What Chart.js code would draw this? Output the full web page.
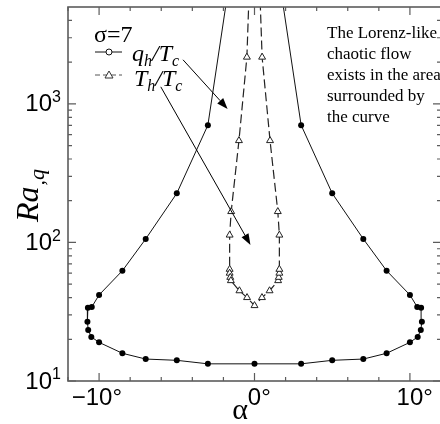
<!DOCTYPE html>
<html>
<head>
<meta charset="utf-8">
<script src="https://cdn.jsdelivr.net/npm/chart.js@4/dist/chart.umd.min.js"></script>
<style>
  html, body { margin: 0; padding: 0; overflow: hidden; background: #fff; }
  canvas { display: block; }
</style>
</head>
<body>
<canvas id="c" width="446" height="424" style="width:446px;height:424px"></canvas>
<script>
// ----------------- data -----------------
// q_h/T_c : closed loop, filled circles
const alphaQ = [-1.6, -3, -5, -7, -8.5, -10, -10.47, -10.72, -10.75, -10.7, -10.5, -10, -8.5, -7, -5, -3,
                0, 3, 5, 7, 8.5, 10, 10.5, 10.7, 10.77, 10.72, 10.47, 10, 8.5, 7, 5, 3, 1.6];
const raQ    = [7800, 702, 226, 106, 62.5, 41.8, 34.2, 33.8, 26.8, 23.3, 20.8, 19, 15.85, 14.4, 14.1, 13.3,
                13.3, 13.3, 14.1, 14.4, 15.85, 19, 20.8, 23.3, 26.8, 33.8, 34.2, 41.8, 62.5, 106, 226, 702, 7800];
// T_h/T_c : dashed, open triangles
const alphaT = [-0.3, -0.49, -1.0, -1.5, -1.6, -1.6, -1.6, -1.56, -1.52, -0.97, -0.48, 0,
                0.48, 0.97, 1.52, 1.56, 1.6, 1.6, 1.6, 1.5, 1.0, 0.49, 0.3];
const raT    = [9000, 2173, 543, 167, 113, 64, 60, 56, 53, 44.8, 40, 35,
                40, 44.8, 53, 56, 60, 64, 113, 167, 543, 2173, 9000];

const xMajor = [-10, 0, 10];
const xNum = ['10', '0', '10'];
const xSign = ['\u2212', '', ''];
const xMinor = [-12, -8, -6, -4, -2, 2, 4, 6, 8, 12];
const yMajor = [10, 100, 1000];
const yExp = ['1', '2', '3'];
const yMinor = [20, 30, 40, 50, 60, 70, 80, 90, 200, 300, 400, 500, 600, 700, 800, 900, 2000, 3000, 4000];

const noteLines = ['The Lorenz-like', 'chaotic flow', 'exists in the area', 'surrounded by', 'the curve'];
// arrows from legend labels to curves (data coords)
const arrowFrom = [[-4.6, 2080], [-6.03, 1327]];
const arrowTo   = [[-1.73, 920], [-0.26, 96]];

const pts = (xs, ys) => xs.map((v, i) => ({ x: v, y: ys[i] }));

function sub(ctx, main, s, x, y, big, small) {
  ctx.font = 'italic ' + big + 'px "Liberation Serif"';
  ctx.fillText(main, x, y);
  x += ctx.measureText(main).width;
  ctx.font = 'italic ' + small + 'px "Liberation Serif"';
  ctx.fillText(s, x, y + 5);
  return x + ctx.measureText(s).width;
}

function arrow(ctx, x0, y0, x1, y1) {
  const ang = Math.atan2(y1 - y0, x1 - x0), L = 11, W = 4;
  const bx = x1 - L * Math.cos(ang), by = y1 - L * Math.sin(ang);
  ctx.beginPath(); ctx.moveTo(x0, y0); ctx.lineTo(bx, by); ctx.stroke();
  ctx.beginPath();
  ctx.moveTo(x1, y1);
  ctx.lineTo(bx + W * Math.sin(ang), by - W * Math.cos(ang));
  ctx.lineTo(bx - W * Math.sin(ang), by + W * Math.cos(ang));
  ctx.closePath(); ctx.fill();
}

const frame = {
  id: 'frame',
  afterDraw(chart) {
    const { ctx, chartArea: a, scales: { x, y } } = chart;
    ctx.save();
    ctx.strokeStyle = '#5c5c5c'; ctx.lineWidth = 1.6;
    ctx.strokeRect(a.left, a.top, a.right - a.left, a.bottom - a.top);
    ctx.lineWidth = 1.2;
    const tx = (v, len) => {
      const px = x.getPixelForValue(v);
      ctx.beginPath();
      ctx.moveTo(px, a.bottom); ctx.lineTo(px, a.bottom - len);
      ctx.moveTo(px, a.top); ctx.lineTo(px, a.top + len);
      ctx.stroke();
    };
    const ty = (v, len) => {
      const py = y.getPixelForValue(v);
      ctx.beginPath();
      ctx.moveTo(a.left, py); ctx.lineTo(a.left + len, py);
      ctx.moveTo(a.right, py); ctx.lineTo(a.right - len, py);
      ctx.stroke();
    };
    xMajor.forEach(v => tx(v, 8));
    xMinor.forEach(v => tx(v, 4));
    yMajor.forEach(v => ty(v, 8));
    yMinor.forEach(v => ty(v, 4));

    ctx.fillStyle = '#000';
    ctx.font = '24px "Liberation Sans"'; ctx.textBaseline = 'alphabetic';
    xMajor.forEach((v, i) => {
      const px = x.getPixelForValue(v);
      const w = ctx.measureText(xNum[i]).width;
      ctx.textAlign = 'center'; ctx.fillText(xNum[i], px, 405);
      ctx.textAlign = 'right'; ctx.fillText(xSign[i], px - w / 2, 405);
      ctx.textAlign = 'left'; ctx.fillText('\u00b0', px + w / 2, 405);
    });
    yMajor.forEach((v, i) => {
      const py = y.getPixelForValue(v);
      ctx.font = '24px "Liberation Sans"'; ctx.textAlign = 'right'; ctx.textBaseline = 'middle';
      ctx.fillText('10', 52, py + 1);
      ctx.font = '16px "Liberation Sans"'; ctx.textAlign = 'left';
      ctx.fillText(yExp[i], 52, py - 6);
    });

    // axis titles
    ctx.textBaseline = 'alphabetic';
    ctx.font = '30px "Liberation Serif"'; ctx.textAlign = 'center';
    ctx.fillText('\u03b1', 240, 419);
    ctx.save();
    ctx.translate(38, 222); ctx.rotate(-Math.PI / 2);
    ctx.textAlign = 'left';
    ctx.font = 'italic 32px "Liberation Serif"';
    ctx.fillText('Ra', 0, 0);
    const w = ctx.measureText('Ra').width;
    ctx.font = 'italic 22px "Liberation Serif"';
    ctx.fillText(',q', w + 1, 6);
    ctx.restore();

    // legend
    ctx.textAlign = 'left';
    ctx.font = '24px "Liberation Serif"';
    ctx.fillText('\u03c3=7', 94, 42);
    ctx.strokeStyle = '#111'; ctx.lineWidth = 1;
    ctx.beginPath(); ctx.moveTo(95, 52); ctx.lineTo(122, 52); ctx.stroke();
    ctx.fillStyle = '#fff';
    ctx.beginPath(); ctx.arc(109, 52, 3, 0, Math.PI * 2); ctx.fill(); ctx.stroke();
    ctx.strokeStyle = '#555'; ctx.setLineDash([5, 3]);
    ctx.beginPath(); ctx.moveTo(95, 75); ctx.lineTo(122, 75); ctx.stroke();
    ctx.setLineDash([]);
    ctx.fillStyle = '#fff'; ctx.strokeStyle = '#333';
    ctx.beginPath(); ctx.moveTo(109, 71); ctx.lineTo(113, 78); ctx.lineTo(105, 78); ctx.closePath();
    ctx.fill(); ctx.stroke();
    ctx.fillStyle = '#000';
    let ex = sub(ctx, 'q', 'h', 132, 61, 24, 16);
    sub(ctx, '/T', 'c', ex, 61, 24, 16);
    ex = sub(ctx, 'T', 'h', 134, 86, 24, 16);
    sub(ctx, '/T', 'c', ex, 86, 24, 16);

    // note
    ctx.font = '17px "Liberation Serif"';
    noteLines.forEach((t, i) => ctx.fillText(t, 327, 38 + i * 21));

    // arrows
    ctx.strokeStyle = '#000'; ctx.fillStyle = '#000'; ctx.lineWidth = 1;
    arrowFrom.forEach((f, i) => {
      const t = arrowTo[i];
      arrow(ctx, x.getPixelForValue(f[0]), y.getPixelForValue(f[1]),
                 x.getPixelForValue(t[0]), y.getPixelForValue(t[1]));
    });
    ctx.restore();
  }
};

new Chart(document.getElementById('c'), {
  type: 'scatter',
  data: {
    datasets: [
      {
        data: pts(alphaQ, raQ), showLine: true, borderColor: '#111', borderWidth: 1,
        pointRadius: 3, pointBackgroundColor: '#000', pointBorderColor: '#000', pointBorderWidth: 0
      },
      {
        data: pts(alphaT, raT), showLine: true, borderColor: '#222', borderWidth: 1.2, borderDash: [9, 4],
        pointStyle: 'triangle', pointRadius: 4, pointBackgroundColor: '#fff', pointBorderColor: '#222', pointBorderWidth: 1
      }
    ]
  },
  options: {
    responsive: false, animation: false, events: [],
    layout: { padding: { left: 68, right: 4, top: 7, bottom: 43 } },
    plugins: { legend: { display: false }, tooltip: { enabled: false } },
    scales: {
      x: { type: 'linear', min: -12, max: 12, display: false },
      y: { type: 'logarithmic', min: 10, max: 5000, display: false }
    }
  },
  plugins: [frame]
});
</script>
</body>
</html>
